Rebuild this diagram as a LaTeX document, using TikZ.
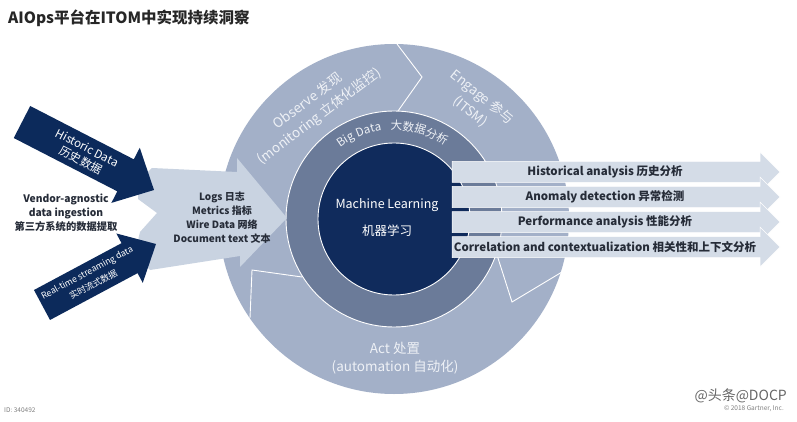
\documentclass[tikz,border=0pt]{standalone}
\usepackage{fontspec}
\setmainfont{Noto Sans CJK SC}
\usetikzlibrary{decorations.text}
\definecolor{outerc}{HTML}{A3B0C8}
\definecolor{midc}{HTML}{6B7B99}
\definecolor{innerc}{HTML}{102B5C}
\definecolor{navy}{HTML}{0C2A5B}
\definecolor{inarrow}{HTML}{C9D3E1}
\definecolor{outarrow}{HTML}{D4DCE7}
\definecolor{darktext}{HTML}{262C38}
\definecolor{ringtext}{HTML}{EEF1F6}
\tikzset{
  ringline/.style={draw=white, line width=0.9pt},
  outarr/.style={fill=outarrow, draw=white, line width=0.5pt},
  darkarr/.style={fill=navy},
  lbl/.style={text=darktext, font=\bfseries\fontsize{11.5}{13}\selectfont, inner sep=0pt},
  ringlbl/.style={text=ringtext, font=\fontsize{13.5}{16}\selectfont, inner sep=0pt},
  arrlbl/.style={transform shape, text=white, inner sep=0pt},
  foot/.style={text=gray, font=\fontsize{6.5}{8}\selectfont, inner sep=0pt}
}
\begin{document}
\begin{tikzpicture}[x=1pt,y=1pt]
\useasboundingbox (0,0) rectangle (797,-422);
\fill[white] (0,0) rectangle (797,-422);

% title
\node[anchor=west, inner sep=0pt, text=black!85, font=\bfseries\fontsize{15.5}{18}\selectfont] (title) at (8,-18) {AIOps平台在ITOM中实现持续洞察};

% rings
\coordinate (C) at (394,-219);
\fill[outerc] (C) circle[radius=175];
\coordinate (c1a) at (397,-44);
\coordinate (c1b) at (422,-77);
\coordinate (c1c) at (398,-111);
\coordinate (c2a) at (497,-255);
\coordinate (c2b) at (512,-302);
\coordinate (c2c) at (562,-272);
\coordinate (c3a) at (302,-277);
\coordinate (c3b) at (252,-270);
\coordinate (c3c) at (250,-318);
\draw[ringline] (c1a) -- (c1b) -- (c1c);
\draw[ringline] (c2a) -- (c2b) -- (c2c);
\draw[ringline] (c3a) -- (c3b) -- (c3c);
\fill[midc, ringline] (C) circle[radius=108];
\fill[innerc, ringline] (C) circle[radius=76];

% ring labels
\node[ringlbl, rotate=37] (observe1) at (307.5,-100.5) {Observe 发现};
\node[ringlbl, rotate=37] (observe2) at (319.4,-116.5) {(monitoring 立体化监控)};
\node[ringlbl, rotate=-39] (engage1) at (482,-97.5) {Engage 参与};
\node[ringlbl, rotate=-39] (engage2) at (470.3,-112) {(ITSM)};
\node[ringlbl] (act1) at (395,-348) {Act 处置};
\node[ringlbl] (act2) at (395,-367) {(automation 自动化)};
\path[decorate, decoration={text along path, text align=center, text color=ringtext,
  text={|\fontsize{11.5}{13}\selectfont|Big Data{\hspace*{9pt}}大数据分析}}]
  (C) ++(137:89) arc[start angle=137, end angle=45, radius=89];
\node[text=white, font=\fontsize{12.5}{15}\selectfont, inner sep=0pt] (ml1) at (387,-205) {Machine Learning};
\node[text=white, font=\fontsize{12.5}{15}\selectfont, inner sep=0pt] (ml2) at (387,-231) {机器学习};

% light input arrow
\fill[inarrow] (152,-168) -- (237,-172) -- (237,-158) -- (287,-218) -- (240,-267) -- (240,-256) -- (150,-270)
  .. controls (138,-258) and (136,-245) .. (140,-232) -- (157,-213) -- (138,-199)
  .. controls (138,-185) and (144,-175) .. (152,-168) -- cycle;
\node[text=darktext, font=\bfseries\fontsize{10}{14}\selectfont, align=center, inner sep=0pt] (ingest) at (222,-218)
  {Logs 日志\\Metrics 指标\\Wire Data 网络\\Document text 文本};

% dark arrows
\begin{scope}[shift={(22,-122)}, rotate=-27.25]
  \fill[darkarr] (0,-18) -- (116.5,-18) -- (116.5,-31) -- (148.5,0) -- (116.5,31) -- (116.5,18) -- (0,18) -- cycle;
  \node[arrlbl, font=\fontsize{11.5}{13}\selectfont] (hist1) at (70,7) {Historic Data};
  \node[arrlbl, font=\fontsize{11.5}{13}\selectfont] (hist2) at (70,-7) {历史数据};
\end{scope}
\begin{scope}[shift={(42,-305)}, rotate=28.15]
  \fill[darkarr] (0,-17) -- (99.3,-17) -- (99.3,-28) -- (129.3,0) -- (99.3,28) -- (99.3,17) -- (0,17) -- cycle;
  \node[arrlbl, font=\fontsize{8.8}{11}\selectfont] (rt1) at (55,6.5) {Real-time streaming data};
  \node[arrlbl, font=\fontsize{8.8}{11}\selectfont] (rt2) at (55,-6) {实时流式数据};
\end{scope}

\node[text=darktext, font=\bfseries\fontsize{10.3}{14}\selectfont, align=center, inner sep=0pt] (vendor) at (66,-213)
  {Vendor-agnostic\\data ingestion\\第三方系统的数据提取};

% output arrows
\foreach \i/\yy/\txt in {1/172/{Historical analysis 历史分析},
                         2/197/{Anomaly detection 异常检测},
                         3/222/{Performance analysis 性能分析},
                         4/247/{Correlation and contextualization 相关性和上下文分析}} {
  \fill[outarr] (452,-\yy+10.5) -- (760,-\yy+10.5) -- (760,-\yy+20) -- (780,-\yy) -- (760,-\yy-20) -- (760,-\yy-10.5) -- (452,-\yy-10.5) -- cycle;
  \node[lbl] (out\i) at (605,-\yy) {\txt};
}

% footer
\node[foot, anchor=west] (id) at (4,-410) {ID: 340492};
\node[foot, anchor=east] (gartner) at (784,-409) {© 2018 Gartner, Inc.};
\node[text=black!60, font=\fontsize{14}{16}\selectfont, inner sep=0pt, anchor=east] (wm) at (787,-396) {@头条@DOCP};
\end{tikzpicture}
\end{document}
